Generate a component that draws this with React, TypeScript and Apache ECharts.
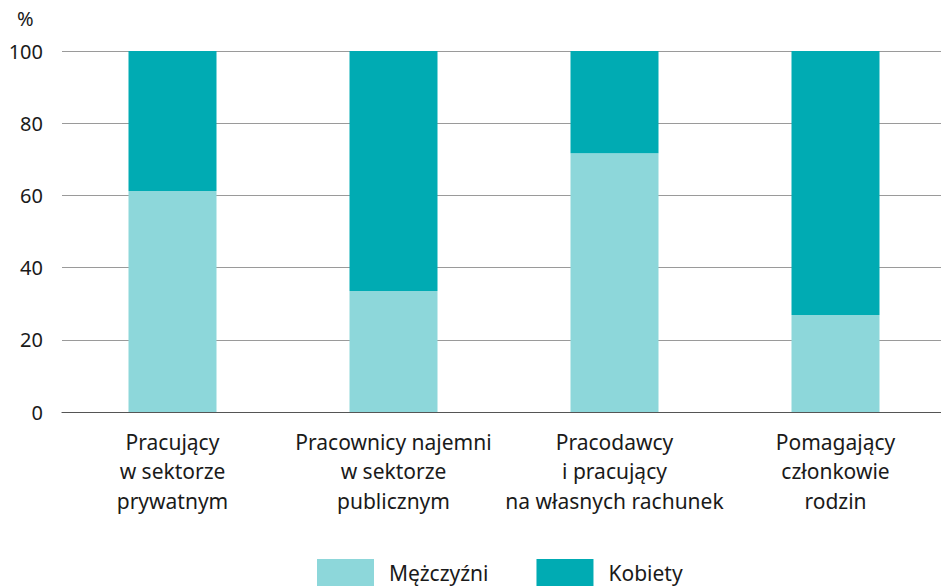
import React, { useEffect, useRef } from "react";
import * as echarts from "echarts";

const categories = [
  "Pracujący\nw sektorze\nprywatnym",
  "Pracownicy najemni\nw sektorze\npublicznym",
  "Pracodawcy\ni pracujący\nna własnych rachunek",
  "Pomagający\nczłonkowie\nrodzin",
];
const men = [61.2, 33.5, 71.7, 26.9];
const women = [38.8, 66.5, 28.3, 73.1];
const yTicks = [0, 20, 40, 60, 80, 100];

const FONT = "Noto Sans";

export default function App() {
  const ref = useRef<HTMLDivElement>(null);
  useEffect(() => {
    document.body.style.margin = "0";
    if (!ref.current) return;
    const chart = echarts.init(ref.current, undefined, { renderer: "svg" });
    chart.setOption({
      animation: false,
      textStyle: { fontFamily: FONT },
      graphic: [
        {
          type: "text",
          left: 17,
          top: 8,
          style: { text: "%", fontSize: 20, fill: "#1a1a1a", fontFamily: FONT },
        },
      ],
      legend: {
        bottom: -6,
        left: 312,
        itemWidth: 57,
        itemHeight: 28,
        itemGap: 48,
        icon: "rect",
        textStyle: { fontSize: 21, color: "#1a1a1a", fontFamily: FONT, padding: [0, 0, 0, 10] },
        data: ["Mężczyźni", "Kobiety"],
      },
      grid: { left: 62, top: 51, width: 884, height: 361, outerBoundsMode: "none" },
      xAxis: {
        type: "category",
        data: categories,
        axisTick: { show: false },
        axisLine: { lineStyle: { color: "#555", width: 1.2 } },
        axisLabel: {
          fontSize: 21,
          color: "#1a1a1a",
          lineHeight: 29.5,
          margin: 15,
          interval: 0,
          fontFamily: FONT,
        },
      },
      yAxis: {
        type: "value",
        min: yTicks[0],
        max: yTicks[yTicks.length - 1],
        interval: 20,
        axisLine: { show: false },
        axisTick: { show: false },
        axisLabel: { fontSize: 20, color: "#1a1a1a", margin: 19, fontFamily: FONT },
        splitLine: { lineStyle: { color: "#9a9a9a", width: 1 } },
      },
      series: [
        {
          name: "Mężczyźni",
          type: "bar",
          stack: "total",
          data: men,
          barWidth: 88,
          itemStyle: { color: "#8dd7da" },
        },
        {
          name: "Kobiety",
          type: "bar",
          stack: "total",
          data: women,
          barWidth: 88,
          itemStyle: { color: "#00abb3" },
        },
      ],
    });
    return () => chart.dispose();
  }, []);
  return <div ref={ref} style={{ width: 941, height: 586 }} />;
}
